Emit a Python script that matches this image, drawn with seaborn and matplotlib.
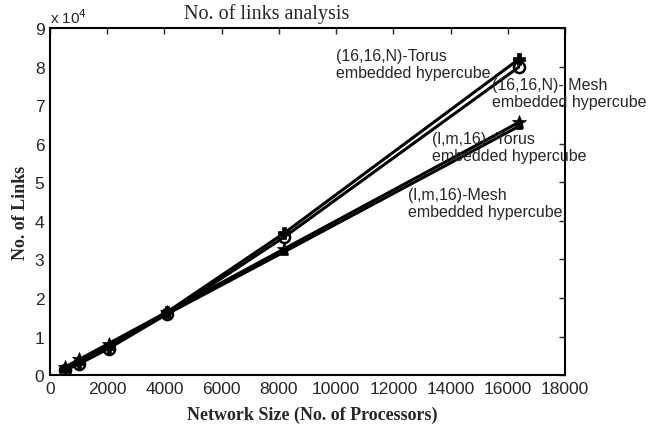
import matplotlib
matplotlib.use("Agg")
import matplotlib.pyplot as plt
import numpy as np
import pandas as pd
import seaborn as sns
from matplotlib.ticker import FuncFormatter, MultipleLocator

# network sizes (no. of processors)
sizes = [512, 1024, 2048, 4096, 8192, 16384]

# no. of links for each network
torus_16_16_n = [1280, 3072, 7168, 16384, 36864, 81920]
mesh_16_16_n = [1248, 2944, 6912, 15872, 35840, 79872]
torus_l_m_16 = [2048, 4096, 8192, 16384, 32768, 65536]
mesh_l_m_16 = [1856, 3840, 7808, 15872, 32000, 64512]

names = ["(16,16,N)-Torus", "(16,16,N)-Mesh", "(l,m,16)-Torus", "(l,m,16)-Mesh"]
series = [torus_16_16_n, mesh_16_16_n, torus_l_m_16, mesh_l_m_16]

rows = []
for name, vals in zip(names, series):
    for s, v in zip(sizes, vals):
        rows.append({"net": name, "size": s, "links": v})
df = pd.DataFrame(rows)

sns.set_style("white")
plt.rcParams["font.family"] = ["Liberation Sans", "DejaVu Sans"]

fig = plt.figure(figsize=(6.57, 4.27), dpi=100)
ax = fig.add_axes([0.076, 0.119, 0.784, 0.813])

markers = {names[0]: "P", names[1]: "o", names[2]: "*", names[3]: "s"}
sizes_m = {names[0]: 9, names[1]: 8, names[2]: 10, names[3]: 5}
for name in names:
    sub = df[df["net"] == name]
    filled = name != names[1]
    sns.lineplot(data=sub, x="size", y="links", ax=ax, color="black", lw=2.2,
                 marker=markers[name], markersize=sizes_m[name],
                 markerfacecolor="black" if filled else "none",
                 markeredgecolor="black", markeredgewidth=1.8 if not filled else 0.5)

ax.set_xlim(0, 18000)
ax.set_ylim(0, 90000)
ax.xaxis.set_major_locator(MultipleLocator(2000))
ax.yaxis.set_major_locator(MultipleLocator(10000))
ax.yaxis.set_major_formatter(FuncFormatter(lambda v, p: f"{int(round(v / 1e4))}"))
ax.tick_params(direction="in", top=True, right=True, length=4, width=1,
               labelsize=12.5, pad=4)
for sp in ax.spines.values():
    sp.set_color("black")
    sp.set_linewidth(1.5)

ax.text(0.0, 1.005, r"x 10$^4$", transform=ax.transAxes, fontsize=11,
        ha="left", va="bottom")
fig.text(0.406, 0.968, "No. of links analysis", family="Liberation Serif",
         fontsize=14.5, ha="center", va="center")
ax.set_xlabel("Network Size (No. of Processors)", family="Liberation Serif",
              fontweight="bold", fontsize=13)
ax.set_ylabel("No. of Links", family="Liberation Serif", fontweight="bold",
              fontsize=13)
ax.xaxis.set_label_coords(0.51, -0.088)
ax.yaxis.set_label_coords(-0.041, 0.47)

notes = [
    (10000, 80600, "(16,16,N)-Torus\nembedded hypercube"),
    (15450, 73100, "(16,16,N)- Mesh\nembedded hypercube"),
    (13350, 59100, "(l,m,16)- Torus\nembedded hypercube"),
    (12500, 44600, "(l,m,16)-Mesh\nembedded hypercube"),
]
for x, y, t in notes:
    ax.text(x, y, t, fontsize=11.5, ha="left", va="center", linespacing=1.15)

fig.savefig("out.png", dpi=100)
